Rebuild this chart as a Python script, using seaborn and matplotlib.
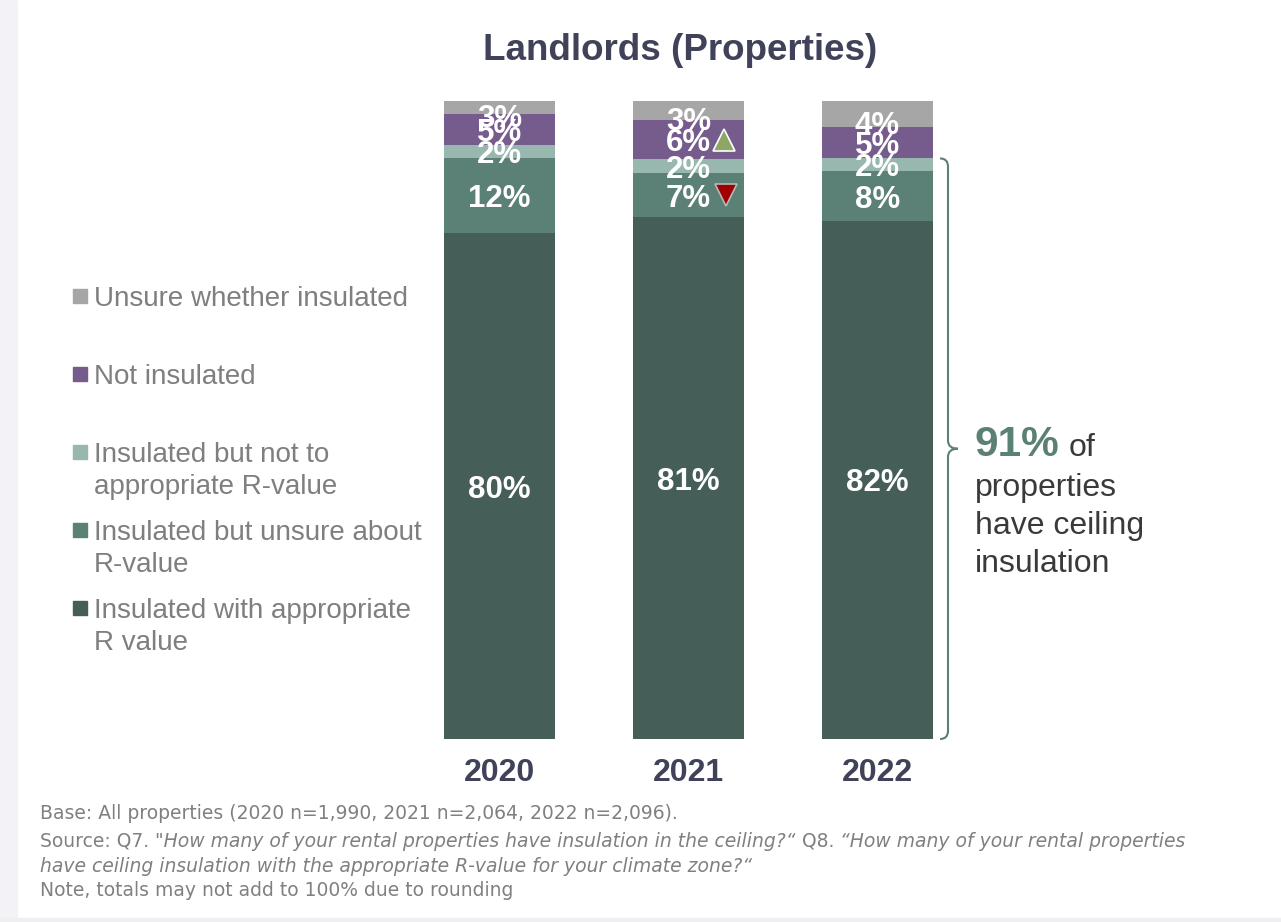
import matplotlib
matplotlib.use("Agg")
import matplotlib.pyplot as plt
import seaborn as sns
import pandas as pd
import numpy as np
from matplotlib.path import Path
from matplotlib.patches import PathPatch, Rectangle

# ---------------- data ----------------
years = ["2020", "2021", "2022"]
categories = ["Insulated with appropriate R value",
              "Insulated but unsure about R-value",
              "Insulated but not to appropriate R-value",
              "Not insulated",
              "Unsure whether insulated"]
legend_lines = [["Insulated with appropriate", "R value"],
                ["Insulated but unsure about", "R-value"],
                ["Insulated but not to", "appropriate R-value"],
                ["Not insulated"],
                ["Unsure whether insulated"]]
# estimated shares (bar heights)
appropriate = [79.3, 81.8, 81.2]
unsure_rvalue = [11.8, 6.9, 7.8]
not_appropriate = [2.0, 2.2, 2.0]
not_insulated = [4.9, 6.1, 4.9]
unsure_insulated = [2.0, 3.0, 4.1]
# printed labels
lab_appropriate = [80, 81, 82]
lab_unsure_rvalue = [12, 7, 8]
lab_not_appropriate = [2, 2, 2]
lab_not_insulated = [5, 6, 5]
lab_unsure_insulated = [3, 3, 4]
# significance markers: (year index, category index)
sig_up = [(1, 3)]
sig_down = [(1, 1)]
headline_value = 91

colors = ["#455f58", "#5b8075", "#98b7ae", "#765b8d", "#a6a6a6"]

series = [appropriate, unsure_rvalue, not_appropriate, not_insulated, unsure_insulated]
labels = [lab_appropriate, lab_unsure_rvalue, lab_not_appropriate, lab_not_insulated, lab_unsure_insulated]

W, H = 1281, 922
fig = plt.figure(figsize=(W / 100, H / 100), dpi=100)
sns.set_style("white")
plt.rcParams["font.family"] = ["Liberation Sans", "DejaVu Sans"]

def fx(x):
    return x / W

def fy(y):
    return 1 - y / H

# background strips
fig.patches.append(Rectangle((0, 0), fx(17), 1, transform=fig.transFigure, color="#f3f2f7", zorder=0))
fig.patches.append(Rectangle((0, 0), 1, 4 / H, transform=fig.transFigure, color="#efeff2", zorder=0))

ax = fig.add_axes([fx(405), 183 / H, 567 / W, 638 / H])

vals = np.array(series)  # shape (5,3)
cum = np.cumsum(vals, axis=0)
for k in range(len(categories) - 1, -1, -1):
    d = pd.DataFrame({"year": years, "cum": cum[k]})
    sns.barplot(data=d, x="year", y="cum", order=years, color=colors[k],
                width=0.587, saturation=1, ax=ax, edgecolor="none", linewidth=0)

ax.set_xlim(-0.5, 2.5)
ax.set_ylim(0, 100)
ax.set_xlabel("")
ax.set_ylabel("")
ax.set_yticks([])
for s in ax.spines.values():
    s.set_visible(False)
ax.tick_params(axis="x", length=0, pad=14)
ax.set_xticks(range(len(years)))
ax.set_xticklabels(years, fontsize=23, fontweight="bold", color="#40425a")

# value labels
n = len(categories)
for k in range(n):
    for i in range(len(years)):
        bottom = cum[k][i] - vals[k][i]
        yc = bottom + vals[k][i] / 2
        if k == n - 1:
            yc -= 1.3
        ax.text(i, yc, f"{labels[k][i]}%", ha="center", va="center_baseline",
                fontsize=22.5, fontweight="bold", color="white", zorder=5)

# significance triangles
for (i, k) in sig_up:
    yc = cum[k][i] - vals[k][i] / 2
    ax.plot(i + 0.19, yc, marker="^", markersize=16, color="#8da665",
            markeredgecolor="white", markeredgewidth=1.2, clip_on=False, zorder=6)
for (i, k) in sig_down:
    yc = cum[k][i] - vals[k][i] / 2
    ax.plot(i + 0.20, yc, marker="v", markersize=16, color="#a00000",
            markeredgecolor="#b8b8b8", markeredgewidth=1.2, clip_on=False, zorder=6)

# brace for 2022 insulated total
top = cum[2][2]
mid = top / 2
x_end, x_line, x_tip = 2.331, 2.373, 2.425
c = 1.3
verts = [(x_end, top), (x_line, top), (x_line, top - c),
         (x_line, mid + c),
         (x_line, mid), (x_tip, mid),
         (x_line, mid), (x_line, mid - c),
         (x_line, 0 + c),
         (x_line, 0), (x_end, 0)]
codes = [Path.MOVETO, Path.CURVE3, Path.CURVE3,
         Path.LINETO,
         Path.CURVE3, Path.CURVE3,
         Path.CURVE3, Path.CURVE3,
         Path.LINETO,
         Path.CURVE3, Path.CURVE3]
ax.add_patch(PathPatch(Path(verts, codes), facecolor="none", edgecolor="#5b8075",
                       linewidth=1.5, clip_on=False))

# headline text
t91 = fig.text(fx(975), fy(441), f"{headline_value}%", fontsize=30.5, fontweight="bold",
               color="#5b8075", ha="left", va="center_baseline")
fig.canvas.draw()
r = fig.canvas.get_renderer()
bb = t91.get_window_extent(r)
fig.text((bb.x1 + 9) / W, fy(444), "of", fontsize=23, color="#3a3a3a", ha="left", va="center_baseline")
for j, line in enumerate(["properties", "have ceiling", "insulation"]):
    fig.text(fx(975), fy(484 + 38 * j), line, fontsize=23, color="#3a3a3a", ha="left",
             va="center_baseline")

# title
fig.text(fx(680), fy(47), "Landlords (Properties)", fontsize=26.5, fontweight="bold",
         color="#40425a", ha="center", va="center_baseline")

# legend (manual)
entry_y = [608, 530, 452, 374, 296]
for k in range(n):
    y0 = entry_y[k]
    fig.patches.append(Rectangle((fx(73), fy(y0 + 7)), 14 / W, 14 / H,
                                 transform=fig.transFigure, color=colors[k]))
    for j, line in enumerate(legend_lines[k]):
        fig.text(fx(94), fy(y0 + 32 * j), line, fontsize=20, color="#7f7f7f",
                 ha="left", va="center_baseline")

# footnotes
fc = "#808080"
fs = 13.5
ff = ["DejaVu Sans"]
fig.text(fx(40), fy(811), "Base: All properties (2020 n=1,990, 2021 n=2,064, 2022 n=2,096).",
         fontsize=fs, color=fc, family=ff, va="center_baseline")

pieces = [("Source: Q7. ", "normal"),
          ("\"How many of your rental properties have insulation in the ceiling?\u201c", "italic"),
          (" Q8. ", "normal"),
          ("\u201cHow many of your rental properties", "italic")]
xcur = 40
for txt, st in pieces:
    t = fig.text(fx(xcur), fy(839), txt, fontsize=fs, color=fc, family=ff, style=st,
                 va="center_baseline")
    fig.canvas.draw()
    xcur = t.get_window_extent(fig.canvas.get_renderer()).x1
fig.text(fx(40), fy(864), "have ceiling insulation with the appropriate R-value for your climate zone?\u201c",
         fontsize=fs, color=fc, family=ff, style="italic", va="center_baseline")
fig.text(fx(40), fy(888), "Note, totals may not add to 100% due to rounding",
         fontsize=fs, color=fc, family=ff, va="center_baseline")

fig.savefig("out.png", dpi=100)
